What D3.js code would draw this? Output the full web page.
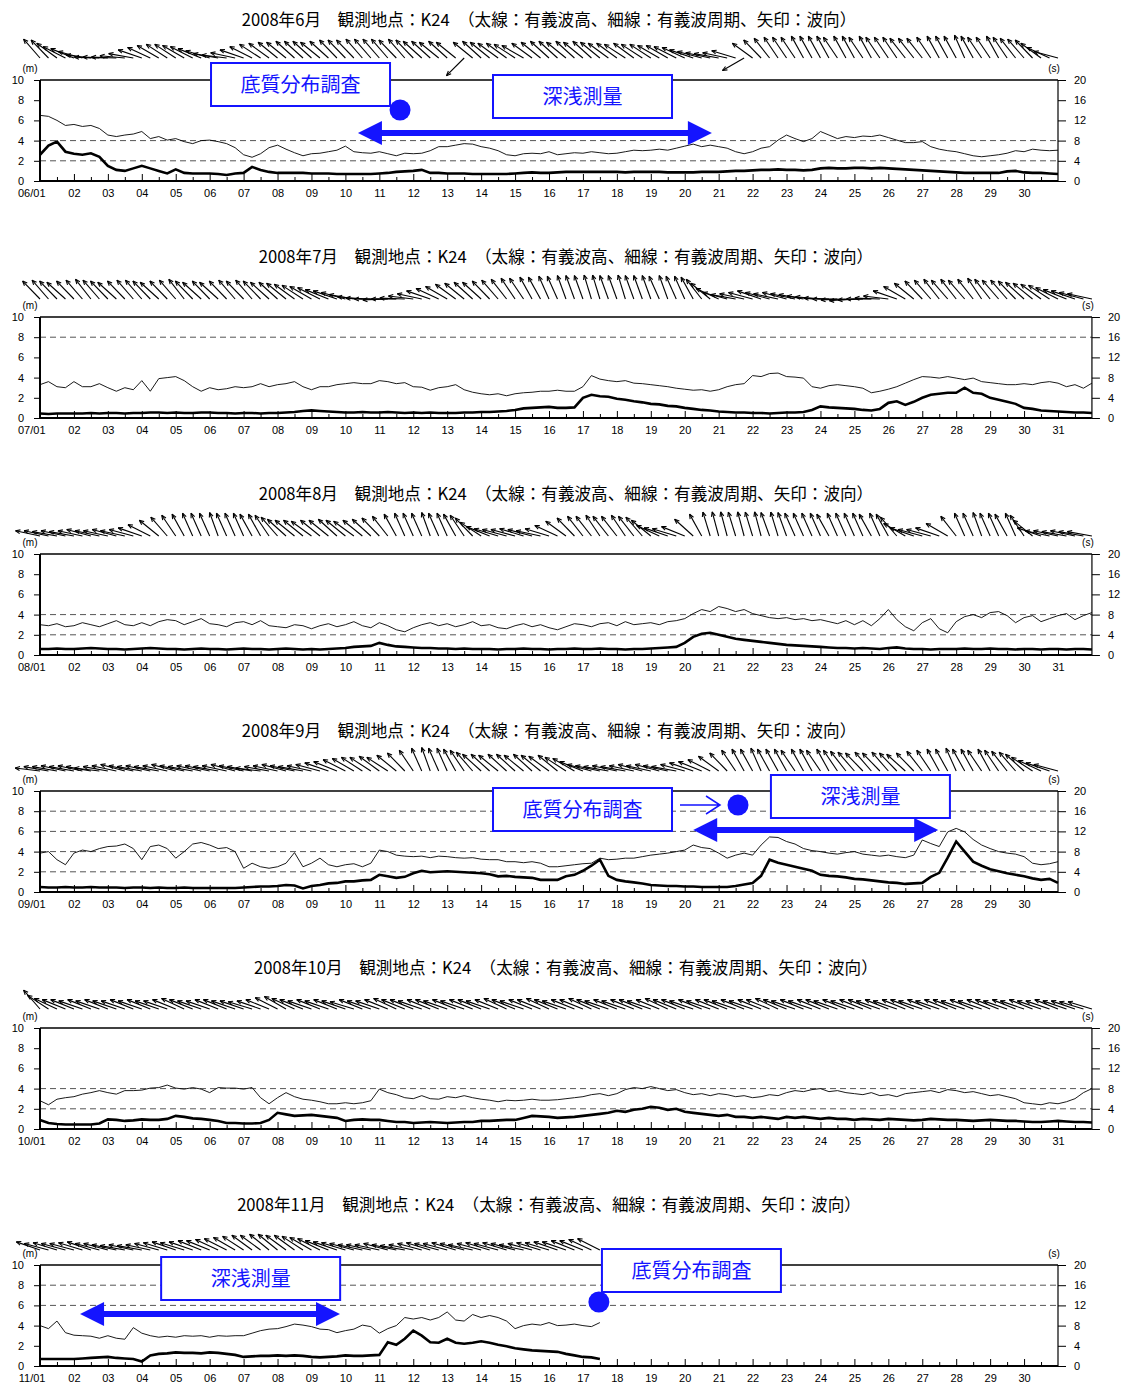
<!DOCTYPE html>
<html>
<head>
<meta charset="utf-8">
<script src="https://cdn.jsdelivr.net/npm/d3@7"></script>
<style>
body { margin: 0; background: #fff; }
</style>
</head>
<body>
<div id="chart"></div>
<script>
// months shown, one panel each
const monthNames = ["6", "7", "8", "9", "10", "11"];
const monthCodes = ["06", "07", "08", "09", "10", "11"];
const daysInMonth = [30, 31, 31, 30, 31, 30];
const station = "K24";

// samples every 6 hours starting at day 1 00:00
// significant wave height (m)
const heightJun = [2.6,3.5,3.9,2.9, 2.7,2.6,2.75,2.4, 1.5,1.1,1.0,1.25, 1.5,1.25,1.0,0.75, 1.15,0.8,0.75,0.75,
  0.75,0.7,0.6,0.75, 0.8,1.4,1.1,0.9, 0.8,0.8,0.8,0.8, 0.75,0.75,0.75,0.7, 0.7,0.7,0.7,0.7,
  0.75,0.8,0.9,0.95, 1.0,1.1,0.8,0.8, 0.75,0.75,0.75,0.7, 0.7,0.7,0.7,0.7, 0.75,0.8,0.85,0.8,
  0.8,0.85,0.9,0.9, 0.9,0.9,0.9,0.9, 0.9,0.85,0.9,0.9, 0.9,0.9,0.85,0.85, 0.85,0.85,0.9,0.9,
  0.9,0.95,1.0,1.0, 1.05,1.1,1.1,1.15, 1.1,1.1,1.05,1.1, 1.25,1.3,1.25,1.25, 1.3,1.3,1.25,1.3,
  1.25,1.2,1.15,1.1, 1.05,1.0,0.95,0.9, 0.85,0.8,0.8,0.8, 0.8,0.8,0.95,1.0, 0.85,0.8,0.8,0.75, 0.7];
const heightJul = [0.45,0.4,0.45,0.45, 0.45,0.45,0.5,0.45, 0.5,0.5,0.45,0.5, 0.5,0.55,0.55,0.5, 0.55,0.5,0.5,0.55,
  0.55,0.5,0.5,0.45, 0.5,0.5,0.45,0.5, 0.5,0.55,0.6,0.7, 0.75,0.7,0.65,0.6, 0.55,0.55,0.6,0.55,
  0.55,0.6,0.55,0.5, 0.55,0.5,0.55,0.5, 0.5,0.5,0.55,0.55, 0.6,0.6,0.65,0.7, 0.8,0.95,1.0,1.05,
  1.1,1.0,1.0,1.05, 2.0,2.3,2.15,2.1, 1.9,1.8,1.65,1.55, 1.4,1.35,1.2,1.15, 1.0,0.9,0.8,0.75,
  0.65,0.6,0.55,0.55, 0.5,0.5,0.45,0.5, 0.55,0.55,0.6,0.8, 1.15,1.05,1.0,0.95, 0.9,0.8,0.75,0.9,
  1.5,1.65,1.3,1.6, 2.0,2.3,2.4,2.5, 2.5,3.0,2.5,2.4, 2.0,1.8,1.6,1.4, 1.0,0.9,0.75,0.7,
  0.65,0.6,0.55,0.55, 0.5];
const heightAug = [0.6,0.6,0.65,0.6, 0.6,0.65,0.7,0.65, 0.6,0.6,0.55,0.6, 0.65,0.7,0.65,0.6, 0.6,0.55,0.6,0.65,
  0.6,0.6,0.55,0.6, 0.65,0.6,0.6,0.55, 0.6,0.65,0.6,0.55, 0.6,0.55,0.6,0.65, 0.7,0.8,0.85,0.9,
  1.2,1.0,0.85,0.8, 0.75,0.7,0.7,0.65, 0.65,0.6,0.65,0.6, 0.6,0.6,0.55,0.6, 0.6,0.65,0.6,0.6,
  0.55,0.6,0.6,0.65, 0.6,0.6,0.65,0.6, 0.6,0.55,0.6,0.6, 0.65,0.7,0.75,0.8, 1.2,1.8,2.1,2.2,
  2.0,1.8,1.6,1.5, 1.4,1.3,1.2,1.1, 1.0,0.95,0.9,0.85, 0.8,0.75,0.7,0.7, 0.65,0.7,0.65,0.6,
  0.7,0.75,0.65,0.6, 0.6,0.55,0.6,0.6, 0.6,0.65,0.6,0.6, 0.65,0.6,0.6,0.55, 0.6,0.6,0.55,0.6,
  0.6,0.55,0.6,0.6, 0.55];
const heightSep = [0.5,0.45,0.45,0.5, 0.45,0.45,0.5,0.45, 0.45,0.45,0.4,0.45, 0.45,0.4,0.45,0.4, 0.4,0.45,0.4,0.4,
  0.4,0.4,0.4,0.4, 0.45,0.5,0.55,0.55, 0.6,0.7,0.65,0.35, 0.6,0.7,0.85,0.9, 1.05,1.05,1.15,1.2,
  1.7,1.55,1.4,1.5, 1.85,2.1,1.95,2.0, 2.05,2.0,1.95,1.9, 1.85,1.75,1.55,1.6, 1.5,1.45,1.4,1.2,
  1.2,1.2,1.55,1.7, 2.1,2.6,3.2,1.6, 1.2,1.05,0.95,0.85, 0.7,0.65,0.6,0.6, 0.55,0.55,0.5,0.5,
  0.5,0.5,0.6,0.75, 0.9,1.6,3.2,2.9, 2.7,2.5,2.3,2.1, 1.7,1.6,1.55,1.45, 1.3,1.25,1.15,1.05,
  0.95,0.9,0.8,0.85, 0.9,1.5,1.9,3.4, 5.0,4.0,3.0,2.6, 2.25,2.05,1.85,1.7, 1.55,1.35,1.2,1.3, 0.9];
const heightOct = [0.9,0.6,0.5,0.45, 0.45,0.45,0.45,0.55, 0.95,0.9,0.8,0.85, 0.95,0.9,0.9,1.0, 1.3,1.2,1.05,1.0,
  0.9,0.8,0.6,0.6, 0.55,0.55,0.6,0.9, 1.6,1.45,1.3,1.35, 1.4,1.3,1.2,1.1, 0.8,0.9,0.95,0.9,
  0.9,0.8,0.7,0.7, 0.6,0.65,0.7,0.65, 0.6,0.65,0.7,0.7, 0.8,0.8,0.85,0.9, 0.9,1.1,1.3,1.25,
  1.2,1.1,1.15,1.2, 1.3,1.4,1.5,1.6, 1.8,1.7,1.9,2.0, 2.2,2.1,1.9,2.0, 1.7,1.6,1.5,1.4,
  1.3,1.4,1.2,1.2, 1.1,1.2,1.1,1.0, 1.2,1.1,1.2,1.1, 1.0,1.1,1.0,1.0, 0.9,1.0,0.95,0.9,
  1.0,0.95,0.9,0.85, 0.9,1.0,0.95,0.9, 0.9,0.85,0.8,0.85, 0.9,0.85,0.8,0.8, 0.75,0.7,0.7,0.75,
  0.8,0.75,0.7,0.7, 0.65];
const heightNov = [0.7,0.7,0.7,0.7, 0.7,0.75,0.8,0.85, 0.9,0.8,0.75,0.7, 0.45,1.05,1.2,1.25, 1.35,1.3,1.3,1.25,
  1.35,1.3,1.2,1.1, 0.9,0.95,1.0,1.0, 1.05,1.0,1.05,1.0, 0.9,0.85,0.9,0.95, 1.05,1.0,1.0,1.05,
  1.1,2.35,2.1,2.7, 3.5,3.0,2.35,2.3, 2.7,2.3,2.2,2.3, 2.45,2.3,2.1,1.95, 1.75,1.65,1.55,1.5,
  1.45,1.4,1.2,1.05, 0.9,0.85,0.7];

// significant wave period (s)
const periodJun = [13.0,12.8,12.0,11.0, 11.2,10.8,11.0,10.4, 9.1,8.8,9.1,9.3, 9.8,8.4,8.8,8.1, 8.4,7.8,7.4,8.0,
  8.1,7.8,7.4,6.6, 5.2,4.7,5.4,6.6, 7.1,6.3,5.6,5.0, 5.4,5.5,5.8,6.1, 6.9,5.8,5.6,5.5,
  5.8,5.4,5.0,5.5, 5.4,5.5,6.0,6.8, 6.8,7.1,7.4,7.3, 6.8,6.5,6.0,5.2, 5.0,5.4,5.5,5.4,
  5.8,5.2,5.4,5.6, 5.5,5.8,5.6,5.4, 5.5,5.8,6.1,6.0, 6.1,6.3,6.1,6.5, 6.9,7.3,6.8,7.1,
  6.8,6.5,5.8,5.4, 5.8,6.5,6.8,8.1, 9.1,8.4,7.8,8.4, 9.8,9.1,8.4,8.8, 8.6,8.9,8.8,9.1,
  8.6,8.1,7.6,7.6, 7.8,6.8,6.3,6.0, 5.8,5.4,5.0,4.8, 5.0,5.2,5.5,6.0, 5.8,6.3,6.1,6.0, 6.1];
const periodJul = [6.6,7.2,6.2,6.0, 7.2,6.2,6.2,6.8, 6.0,5.3,6.0,5.6, 7.4,5.3,7.8,8.0, 8.2,7.4,6.2,5.3,
  6.0,5.6,5.8,6.2, 6.0,6.2,6.8,6.2, 6.6,6.8,7.2,6.2, 5.6,6.2,6.2,6.6, 6.8,7.0,6.8,6.8,
  7.4,7.2,6.8,7.0, 6.2,6.1,5.5,6.0, 6.2,6.6,5.6,5.1, 4.8,4.6,4.8,4.4, 4.8,5.0,5.1,5.3,
  5.3,5.5,5.3,5.3, 6.2,8.4,7.7,7.4, 7.2,7.4,6.9,6.8, 6.6,6.4,6.2,5.9, 5.7,5.5,5.6,5.3,
  5.6,6.2,6.6,6.8, 8.4,8.2,8.8,8.9, 8.2,8.1,7.9,6.2, 5.9,6.4,6.6,6.4, 6.2,5.9,5.0,5.3,
  5.7,6.2,6.9,7.6, 8.2,8.1,7.9,8.2, 7.9,7.6,7.9,7.2, 7.0,6.8,6.6,6.6, 6.8,6.6,7.0,7.2,
  6.9,6.2,6.6,5.9, 6.9];
const periodAug = [6.0,5.8,6.2,5.6, 5.8,6.4,6.0,5.6, 6.2,6.8,6.0,5.8, 6.4,5.8,6.6,7.0, 6.8,6.0,6.6,7.2,
  6.2,6.0,5.6,6.4, 6.6,6.0,6.8,5.8, 5.6,5.4,6.0,5.8, 5.2,5.8,6.2,5.6, 6.0,6.6,5.8,5.4,
  6.4,5.8,5.0,4.6, 5.4,6.0,6.4,5.8, 6.2,5.6,6.0,6.6, 5.8,6.0,5.4,5.2, 5.8,6.2,5.6,6.0,
  5.4,5.0,5.6,6.2, 6.0,5.6,6.2,6.4, 5.8,6.6,6.0,6.2, 6.4,6.0,6.6,6.8, 7.2,8.2,9.0,8.6,
  9.6,9.2,8.6,9.0, 8.2,7.8,7.4,7.2, 7.4,7.0,7.2,6.8, 7.0,6.6,6.2,6.8, 6.0,6.8,5.8,7.2,
  9.0,7.0,5.6,4.8, 6.4,7.2,5.2,4.4, 6.6,7.6,8.0,7.4, 8.4,8.6,7.8,6.4, 7.4,7.8,6.6,7.2,
  7.8,8.2,7.0,7.8, 8.4];
const periodSep = [7.7,8.0,6.4,5.4, 7.7,8.3,8.0,8.6, 9.0,9.1,9.5,8.6, 6.4,9.0,9.3,8.6, 6.7,8.0,9.5,9.8,
  9.3,8.6,8.8,8.0, 4.7,5.7,5.0,4.7, 5.0,5.7,7.8,5.0, 5.7,6.7,5.4,5.0, 5.4,5.6,5.0,5.7,
  8.3,8.0,7.3,7.1, 7.0,7.1,6.8,7.1, 7.0,6.8,6.7,6.8, 6.5,6.4,6.4,6.0, 6.0,5.8,6.0,5.7,
  5.0,5.0,5.2,5.4, 5.6,5.7,6.7,6.4, 6.5,6.7,6.7,7.0, 7.3,7.5,7.7,8.0, 8.3,9.3,8.8,8.6,
  7.7,6.7,7.3,7.7, 7.3,9.3,10.9,10.8, 10.0,9.5,8.6,8.2, 8.0,7.7,7.5,7.8, 8.0,7.5,7.3,7.1,
  7.3,7.0,6.8,7.3, 10.3,9.6,9.0,11.9, 12.6,11.9,10.4,9.3, 8.6,8.0,7.7,7.5, 7.0,5.7,5.4,5.6, 6.0];
const periodOct = [5.6,4.8,5.9,6.2, 6.4,6.9,7.2,7.6, 7.2,6.9,7.6,7.6, 7.7,8.1,8.2,8.7, 8.1,7.9,8.2,7.9,
  7.2,8.2,8.1,8.1, 7.9,8.2,6.2,5.0, 6.2,7.2,6.4,5.9, 5.7,5.4,5.0,5.0, 5.2,5.0,5.2,5.6,
  7.9,7.2,6.8,6.2, 6.0,6.6,6.0,5.9, 6.4,6.2,6.6,6.2, 5.9,5.7,5.4,5.7, 5.6,5.7,5.9,5.7,
  5.7,5.8,6.0,6.2, 6.4,6.8,7.0,6.6, 7.0,7.8,8.2,8.0, 8.4,8.0,7.6,7.8, 7.2,6.8,7.0,6.6,
  7.0,6.8,6.4,6.6, 6.2,6.4,6.8,6.6, 7.2,7.6,7.4,7.8, 8.0,7.4,7.6,7.2, 7.0,6.8,7.2,6.6,
  6.8,6.4,7.0,7.2, 7.4,7.6,7.2,7.8, 7.6,7.2,7.4,7.0, 6.6,6.8,6.4,6.0, 5.2,5.0,4.8,5.2,
  5.0,5.4,6.0,7.2, 8.0];
const periodNov = [8.0,7.4,8.9,6.6, 6.1,6.0,5.9,5.5, 6.0,5.5,5.3,7.6, 6.5,6.0,5.7,5.9, 5.7,6.0,5.9,6.0,
  5.7,6.0,5.9,6.0, 6.0,6.5,7.0,7.3, 7.4,7.8,8.3,8.1, 7.8,7.3,7.2,6.6, 7.0,7.3,8.1,7.8,
  6.5,7.4,8.0,9.6, 9.3,9.6,9.1,9.6, 10.7,9.1,8.9,10.2, 9.6,10.0,9.6,8.9, 7.4,8.0,8.3,8.1,
  8.6,8.0,8.1,8.3, 8.0,7.8,8.6];

// wave direction (degrees clockwise from north, direction the arrow points)
const dirJun = [319,316,306,297, 292,285,277,272, 272,272,275,280, 289,295,300,303, 303,300,297,292,
  287,280,277,282, 289,297,303,306, 309,309,312,312, 312,309,312,316, 316,316,319,319,
  319,319,316,319, 316,312,312,309, 312,309,225,309, 312,309,306,306, 303,300,306,309,
  312,312,309,312, 309,312,309,306, 306,303,306,303, 303,300,300,297, 295,289,285,282,
  280,282,287,240, 306,316,322,326, 326,326,331,331, 331,331,326,331, 331,326,331,326,
  326,326,322,322, 322,326,331,331, 331,336,331,326, 326,331,326,322, 319,316,306,295, 285];
const dirJul = [316,319,316,312, 316,319,322,319, 316,312,316,319, 319,316,312,316, 319,322,316,312,
  316,312,316,319, 316,319,316,312, 312,309,306,303, 300,297,292,289, 285,280,275,272,
  270,268,270,272, 277,282,289,295, 300,306,309,312, 312,316,319,322, 326,326,331,331,
  336,336,340,340, 340,343,343,340, 340,343,340,340, 340,336,340,336, 336,331,322,309,
  295,285,280,282, 285,289,285,282, 285,282,280,277, 275,272,270,268, 266,268,270,272,
  277,289,300,309, 316,319,322,319, 322,319,322,326, 322,319,319,316, 312,309,306,303,
  297,292,289,285, 282];
const dirAug = [282,282,280,282, 280,282,285,282, 282,285,282,285, 289,297,309,319, 326,331,336,336,
  336,340,336,336, 336,331,331,326, 319,312,309,309, 306,309,309,312, 309,306,309,312,
  316,322,331,336, 336,336,340,336, 336,331,326,316, 303,292,287,285, 285,287,285,282,
  287,295,306,316, 322,322,326,322, 322,326,322,319, 309,295,289,287, 292,312,331,343,
  345,345,343,345, 343,345,340,343, 340,336,336,336, 336,331,336,336, 336,336,331,336,
  331,319,300,289, 285,285,289,300, 322,336,336,340, 336,336,331,336, 326,309,289,282,
  282,280,282,280, 280];
const dirSep = [277,280,280,282, 280,282,280,277, 280,282,285,282, 280,282,280,282, 285,282,280,282,
  282,280,282,285, 282,280,277,280, 282,285,282,280, 282,285,289,292, 297,300,303,303,
  306,303,309,316, 326,336,340,336, 336,331,326,319, 312,312,309,312, 312,309,312,309,
  306,309,303,300, 292,285,282,280, 282,280,282,285, 282,285,282,280, 285,289,292,297,
  306,316,326,331, 331,336,331,331, 331,326,331,331, 326,331,326,322, 319,316,319,316,
  319,316,312,316, 322,326,331,331, 336,331,331,326, 331,326,322,319, 312,303,295,289, 285];
const dirOct = [319,303,295,292, 292,289,292,289, 292,289,289,292, 289,292,289,289, 292,295,292,289,
  289,292,292,289, 289,287,289,292, 297,300,295,292, 289,292,289,292, 289,287,292,289,
  289,292,295,292, 292,289,292,292, 289,292,289,292, 292,289,292,295, 292,289,292,292,
  295,292,289,292, 292,295,292,289, 292,289,292,292, 289,292,295,292, 292,289,292,289,
  292,292,289,292, 289,292,292,295, 292,289,292,289, 292,292,289,292, 289,292,292,289,
  292,289,292,292, 289,292,289,292, 292,289,292,289, 292,292,289,292, 289,292,289,289,
  292,289,289,287, 287];
const dirNov = [289,285,287,285, 285,287,289,285, 285,282,280,282, 280,282,285,287, 289,287,289,292,
  292,295,297,300, 303,306,306,309, 309,306,306,303, 300,297,292,289, 287,285,282,282,
  282,285,282,280, 282,285,287,285, 285,287,285,282, 285,287,285,287, 285,282,285,287,
  287,289,289,292, 292,295,297];

const waveHeight = [heightJun, heightJul, heightAug, heightSep, heightOct, heightNov];
const wavePeriod = [periodJun, periodJul, periodAug, periodSep, periodOct, periodNov];
const waveDir = [dirJun, dirJul, dirAug, dirSep, dirOct, dirNov];

// reference levels drawn dashed on each panel (m)
const refLevels = [[2, 4], [8], [2, 4], [2, 4, 6, 8], [2, 4], [6, 8]];

// field survey notes (panel index, day of month)
const noteBoxes = [
  {panel: 0, text: "底質分布調査", day: 6.04, dy: -17},
  {panel: 0, text: "深浅測量", day: 14.35, dy: -5},
  {panel: 3, text: "底質分布調査", day: 14.35, dy: -3},
  {panel: 3, text: "深浅測量", day: 22.54, dy: -16},
  {panel: 5, text: "深浅測量", day: 4.57, dy: -8},
  {panel: 5, text: "底質分布調査", day: 17.56, dy: -16}
];
const noteSpans = [
  {panel: 0, from: 10.37, to: 20.8, dy: 53},
  {panel: 3, from: 20.25, to: 27.47, dy: 39},
  {panel: 5, from: 2.18, to: 9.84, dy: 49}
];
const noteDots = [
  {panel: 0, day: 11.61, dy: 30},
  {panel: 3, day: 21.57, dy: 14},
  {panel: 5, day: 17.47, dy: 37}
];
const notePointers = [{panel: 3, from: 19.86, to: 21.04, dy: 14}];

const width = 1126, height = 1390;
const step = 0.25;           // days between samples
const dayW = 1018 / 30;
const plotLeft = 40, plotH = 101;
const stickBase = [22, 18, 18, 20, 19, 15];
const stickLen = 25;
const blue = "#1414ff";
const axisFont = "'Liberation Sans', Arial, sans-serif";
const jpFont = "'Noto Sans CJK JP', 'Noto Sans', sans-serif";

const svg = d3.select("#chart").append("svg")
  .attr("width", width).attr("height", height)
  .style("background", "#fff");

const scales = [];

monthNames.forEach((mon, i) => {
  const nDays = daysInMonth[i];
  const top = 80 + i * 237;
  const bottom = top + plotH;
  const right = plotLeft + nDays * dayW;

  const x = d3.scaleLinear().domain([1, nDays + 1]).range([plotLeft, right]);
  const yH = d3.scaleLinear().domain([0, 10]).range([bottom, top]);
  const yT = d3.scaleLinear().domain([0, 20]).range([bottom, top]);
  scales.push({x, yH, top});

  const g = svg.append("g");

  // title
  g.append("text")
    .attr("x", (plotLeft + right) / 2).attr("y", top - 54)
    .attr("text-anchor", "middle")
    .style("font-family", jpFont).style("font-size", "16.6px")
    .text(`2008年${mon}月　観測地点：${station}　（太線：有義波高、細線：有義波周期、矢印：波向）`);

  // wave direction sticks
  const sticks = g.append("g").attr("stroke", "#000").attr("stroke-width", 1.1);
  const baseY = top - stickBase[i];
  waveDir[i].forEach((deg, j) => {
    const bx = x(1 + j * step);
    const a = deg * Math.PI / 180;
    const tx = bx + stickLen * Math.sin(a), ty = baseY - stickLen * Math.cos(a);
    sticks.append("line").attr("x1", bx).attr("y1", baseY).attr("x2", tx).attr("y2", ty);
    // small head
    [-0.4, 0.4].forEach(off => {
      const b = a + Math.PI + off;
      sticks.append("line")
        .attr("x1", tx).attr("y1", ty)
        .attr("x2", tx + 5 * Math.sin(b)).attr("y2", ty - 5 * Math.cos(b));
    });
  });

  // dashed levels
  g.selectAll("line.ref").data(refLevels[i]).enter()
    .append("line")
      .attr("x1", plotLeft).attr("x2", right)
      .attr("y1", d => yH(d)).attr("y2", d => yH(d))
      .attr("stroke", "#555").attr("stroke-width", 1)
      .attr("stroke-dasharray", "6,4");

  // axes
  const leftAxis = g.append("g")
    .attr("transform", `translate(${plotLeft},0)`)
    .call(d3.axisLeft(yH).tickValues([0, 2, 4, 6, 8, 10]).tickSize(6).tickPadding(10));
  const rightAxis = g.append("g")
    .attr("transform", `translate(${right},0)`)
    .call(d3.axisRight(yT).tickValues([0, 4, 8, 12, 16, 20]).tickSize(8).tickPadding(8));
  const dayTicks = d3.range(1, nDays + 1);
  const bottomAxis = g.append("g")
    .attr("transform", `translate(0,${bottom})`)
    .call(d3.axisBottom(x).tickValues(dayTicks).tickSize(-7).tickPadding(8)
      .tickFormat(d => d === 1 ? `${monthCodes[i]}/01` : String(d).padStart(2, "0")));
  g.append("g")
    .attr("transform", `translate(0,${bottom})`)
    .call(d3.axisBottom(x).tickValues(dayTicks.map(d => d + 0.5)).tickSize(-4).tickFormat(""));

  [leftAxis, rightAxis, bottomAxis].forEach(a => {
    a.select(".domain").remove();
    a.selectAll("text").style("font-family", axisFont).style("font-size", "11px").attr("fill", "#000");
    a.selectAll("line").attr("stroke", "#000");
  });
  g.selectAll(".tick line").attr("stroke", "#000");
  g.selectAll("path.domain").remove();
  bottomAxis.select(".tick text").attr("text-anchor", "end").attr("x", 5);

  // unit labels
  g.append("text").attr("x", 30).attr("y", top - 8).attr("text-anchor", "middle")
    .style("font-family", axisFont).style("font-size", "10px").text("(m)");
  g.append("text").attr("x", right - 4).attr("y", top - 8).attr("text-anchor", "middle")
    .style("font-family", axisFont).style("font-size", "10px").text("(s)");

  // frame
  g.append("line").attr("x1", plotLeft).attr("x2", right).attr("y1", top).attr("y2", top)
    .attr("stroke", "#000").attr("stroke-width", 1.6);
  g.append("line").attr("x1", plotLeft).attr("x2", right).attr("y1", bottom).attr("y2", bottom)
    .attr("stroke", "#000").attr("stroke-width", 2);
  g.append("line").attr("x1", plotLeft).attr("x2", plotLeft).attr("y1", top).attr("y2", bottom)
    .attr("stroke", "#000").attr("stroke-width", 2);
  g.append("line").attr("x1", right).attr("x2", right).attr("y1", top).attr("y2", bottom)
    .attr("stroke", "#000").attr("stroke-width", 1.2);

  // period (thin) and height (thick)
  const periodLine = d3.line().x((v, j) => x(1 + j * step)).y(v => yT(v));
  const heightLine = d3.line().x((v, j) => x(1 + j * step)).y(v => yH(v));
  g.append("path").datum(wavePeriod[i])
    .attr("d", periodLine).attr("fill", "none").attr("stroke", "#000").attr("stroke-width", 0.9);
  g.append("path").datum(waveHeight[i])
    .attr("d", heightLine).attr("fill", "none").attr("stroke", "#000").attr("stroke-width", 2.6);
});

// survey annotations
const notes = svg.append("g");
noteBoxes.forEach(b => {
  const s = scales[b.panel];
  const x0 = s.x(b.day), y0 = s.top + b.dy;
  notes.append("rect").attr("x", x0).attr("y", y0).attr("width", 179).attr("height", 43)
    .attr("fill", "#fff").attr("stroke", blue).attr("stroke-width", 2);
  notes.append("text").attr("x", x0 + 89.5).attr("y", y0 + 29)
    .attr("text-anchor", "middle").attr("fill", blue)
    .style("font-family", jpFont).style("font-size", "20px")
    .text(b.text);
});
noteSpans.forEach(a => {
  const s = scales[a.panel];
  const x1 = s.x(a.from), x2 = s.x(a.to), y = s.top + a.dy;
  const hl = 24, hh = 12;
  notes.append("line").attr("x1", x1 + hl - 2).attr("x2", x2 - hl + 2).attr("y1", y).attr("y2", y)
    .attr("stroke", blue).attr("stroke-width", 6);
  notes.append("path").attr("fill", blue)
    .attr("d", `M${x1},${y}L${x1 + hl},${y - hh}L${x1 + hl},${y + hh}Z`);
  notes.append("path").attr("fill", blue)
    .attr("d", `M${x2},${y}L${x2 - hl},${y - hh}L${x2 - hl},${y + hh}Z`);
});
notePointers.forEach(p => {
  const s = scales[p.panel];
  const x1 = s.x(p.from), x2 = s.x(p.to), y = s.top + p.dy;
  notes.append("path").attr("fill", "none").attr("stroke", blue).attr("stroke-width", 1.5)
    .attr("d", `M${x1},${y}L${x2},${y}M${x2 - 14},${y - 9}L${x2},${y}L${x2 - 14},${y + 9}`);
});
noteDots.forEach(d => {
  const s = scales[d.panel];
  notes.append("circle").attr("cx", s.x(d.day)).attr("cy", s.top + d.dy).attr("r", 10.5)
    .attr("fill", blue);
});
</script>
</body>
</html>
